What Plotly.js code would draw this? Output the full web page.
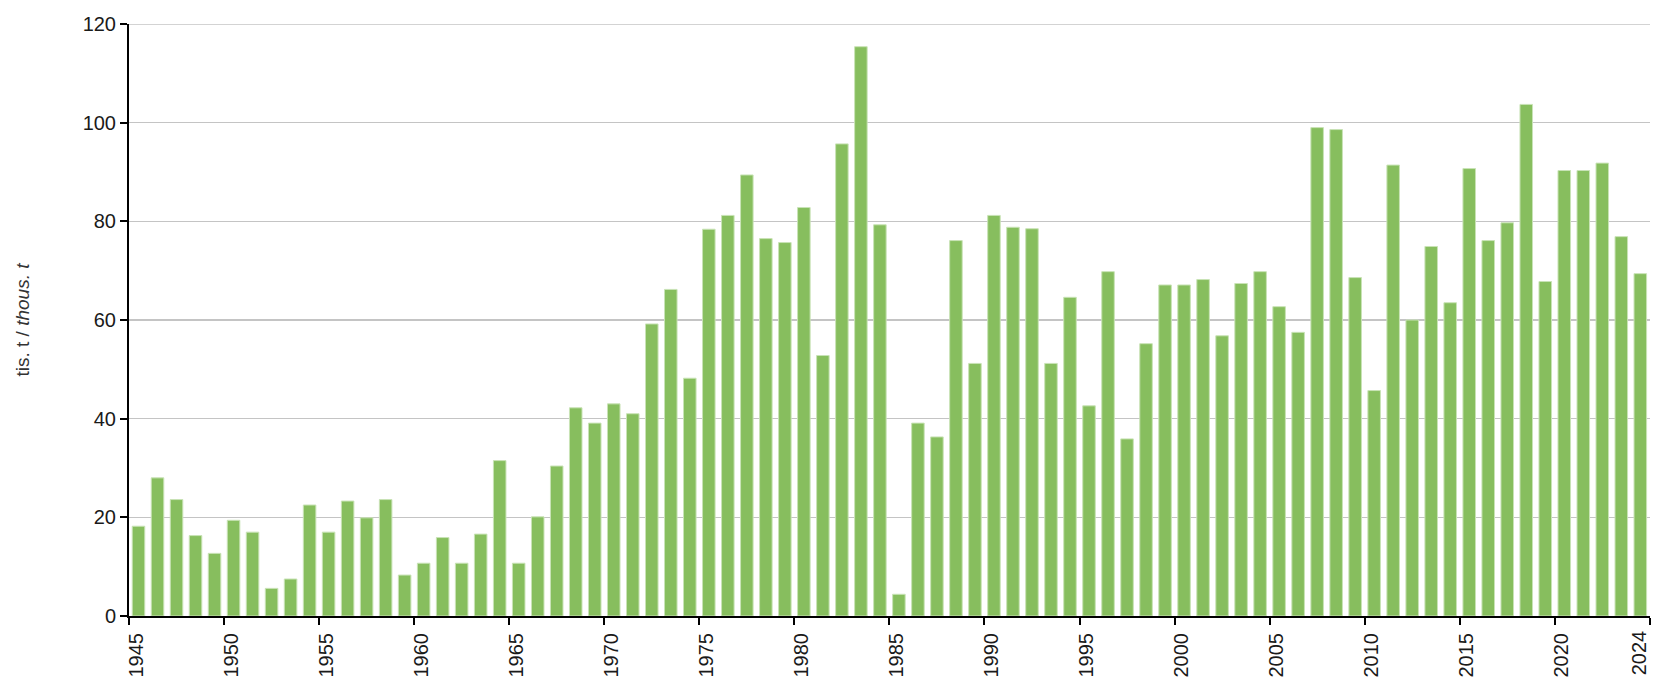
<!DOCTYPE html>
<html>
<head>
<meta charset="utf-8">
<script src="https://cdn.plot.ly/plotly-3.0.1.min.js"></script>
<style>
  html, body { margin: 0; padding: 0; background: #ffffff; }
  #chart { width: 1654px; height: 677px; }
</style>
</head>
<body>
<div id="chart"></div>
<script>
// yearly values, tis. t / thous. t
var years = [];
for (var y = 1945; y <= 2024; y++) years.push(y);

var values = [
  18.2, 28.0, 23.6, 16.3, 12.7, 19.4, 17.0, 5.6, 7.5, 22.5,
  17.0, 23.3, 19.9, 23.6, 8.3, 10.7, 15.9, 10.7, 16.6, 31.5,
  10.7, 20.1, 30.4, 42.2, 39.1, 43.0, 41.0, 59.2, 66.2, 48.2,
  78.4, 81.2, 89.4, 76.5, 75.7, 82.8, 52.8, 95.7, 115.4, 79.3,
  4.4, 39.1, 36.3, 76.1, 51.2, 81.2, 78.8, 78.5, 51.2, 64.6,
  42.6, 69.8, 35.9, 55.2, 67.1, 67.1, 68.2, 56.8, 67.4, 69.8,
  62.7, 57.5, 99.0, 98.6, 68.6, 45.7, 91.4, 60.0, 74.9, 63.5,
  90.7, 76.1, 79.7, 103.7, 67.8, 90.3, 90.3, 91.8, 76.9, 69.4
];

// tick labels sit on the left edge of each 5th bar; the last one on the right edge
var tickYears = [1945, 1950, 1955, 1960, 1965, 1970, 1975, 1980, 1985,
                 1990, 1995, 2000, 2005, 2010, 2015, 2020, 2024];
var lastYear = tickYears[tickYears.length - 1];
var tickPos = tickYears.map(function (t, i) {
  return i === tickYears.length - 1 ? t + 0.5 : t - 0.5;
});
// last label is drawn as an annotation so it can sit inside the right edge
var tickText = tickYears.map(function (t, i) {
  return i === tickYears.length - 1 ? '' : String(t);
});
var yTicks = [0, 20, 40, 60, 80, 100, 120];

var data = [
  {
    type: 'bar',
    x: years,
    y: values,
    width: 0.66,
    marker: {
      color: '#87be5e',
      line: { color: '#c9e3b6', width: 1 }
    },
    hoverinfo: 'x+y'
  }
];

var layout = {
  width: 1654,
  height: 677,
  margin: { l: 129, r: 4, t: 24, b: 61 },
  paper_bgcolor: '#ffffff',
  plot_bgcolor: '#ffffff',
  showlegend: false,
  font: { family: 'Liberation Sans, Arial, sans-serif', size: 20, color: '#1a1a1a' },
  xaxis: {
    range: [1944.5, 2024.51],
    tickmode: 'array',
    tickvals: tickPos,
    ticktext: tickText,
    tickangle: -90,
    ticklabelshift: 7,
    ticklabeloverflow: 'allow',
    ticks: 'outside',
    ticklen: 7,
    tickwidth: 2,
    tickcolor: '#000000',
    showline: true,
    linecolor: '#000000',
    linewidth: 2,
    showgrid: false,
    zeroline: false,
    tickfont: { size: 20, color: '#1a1a1a' }
  },
  yaxis: {
    range: [0, 120],
    tickvals: yTicks,
    ticks: 'outside',
    ticklen: 7,
    tickwidth: 2,
    tickcolor: '#000000',
    showline: true,
    linecolor: '#000000',
    linewidth: 2,
    showgrid: true,
    gridcolor: '#c4c4c4',
    gridwidth: 1.5,
    zeroline: false,
    tickfont: { size: 20, color: '#1a1a1a' },
    title: {
      text: 'tis. t / <i>thous. t</i>',
      font: { size: 19, color: '#333333' },
      standoff: 48
    }
  },
  annotations: [
    {
      text: String(lastYear),
      xref: 'x', yref: 'paper',
      x: lastYear + 0.5, y: 0,
      xanchor: 'right', yanchor: 'top',
      textangle: -90,
      showarrow: false,
      yshift: -12,
      xshift: 2,
      font: { size: 20, color: '#1a1a1a' }
    }
  ],
  // top gridline at the end of the range (Plotly skips it)
  shapes: [
    {
      type: 'line', xref: 'paper', yref: 'y',
      x0: 0, x1: 1, y0: yTicks[yTicks.length - 1], y1: yTicks[yTicks.length - 1],
      line: { color: '#c4c4c4', width: 1.5 },
      layer: 'below'
    }
  ]
};

Plotly.newPlot('chart', data, layout, { displayModeBar: false, staticPlot: true });
</script>
</body>
</html>
